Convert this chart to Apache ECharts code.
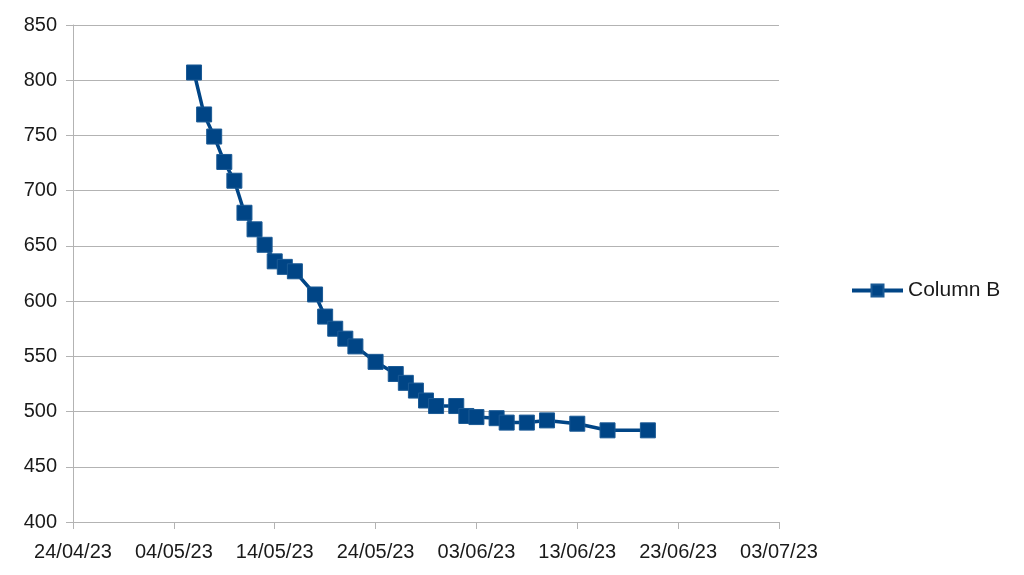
<!DOCTYPE html>
<html>
<head>
<meta charset="utf-8">
<script src="https://cdn.jsdelivr.net/npm/echarts@6/dist/echarts.min.js"></script>
<style>html,body{margin:0;padding:0;background:#fff;}#chart{width:1024px;height:575px;}</style>
</head>
<body>
<div id="chart"></div>
<script>
const baseDate = '2023-04-24';
const dates = ['2023-05-06','2023-05-07','2023-05-08','2023-05-09','2023-05-10','2023-05-11','2023-05-12','2023-05-13','2023-05-14','2023-05-15','2023-05-16','2023-05-18','2023-05-19','2023-05-20','2023-05-21','2023-05-22','2023-05-24','2023-05-26','2023-05-27','2023-05-28','2023-05-29','2023-05-30','2023-06-01','2023-06-02','2023-06-03','2023-06-05','2023-06-06','2023-06-08','2023-06-10','2023-06-13','2023-06-16','2023-06-20'];
const columnB = [807,769,749,726,709,680,665,651,636,631,627,606,586,575,566,559,545,534,526,519,510,505,505,496,495,494,490,490,492,489,483,483];
const seriesName = 'Column B';

const DAY = 86400000;
function toUTC(s){const p=s.split('-').map(Number);return Date.UTC(p[0],p[1]-1,p[2]);}
const base = toUTC(baseDate);
const points = dates.map((d,i)=>[(toUTC(d)-base)/DAY, columnB[i]]);
function pad(n){return (n<10?'0':'')+n;}
function fmt(v){const d=new Date(base+v*DAY);return pad(d.getUTCDate())+'/'+pad(d.getUTCMonth()+1)+'/'+pad(d.getUTCFullYear()%100);}

const chart = echarts.init(document.getElementById('chart'));
const gray = '#b3b3b3';
const fontSize = 20;
chart.setOption({
  animation:false,
  textStyle:{fontFamily:'Liberation Sans'},
  grid:{left:73,right:245,top:25,bottom:53,containLabel:false},
  legend:{
    orient:'vertical', left:845, top:275, itemWidth:51, itemHeight:15, itemGap:5,
    textStyle:{fontFamily:'Liberation Sans',fontSize:21,color:'#1a1a1a'},
    lineStyle:{width:4},
    data:[seriesName]
  },
  xAxis:{
    type:'value', min:0, max:70, interval:10,
    axisLine:{lineStyle:{color:gray}},
    axisTick:{show:true,length:7,lineStyle:{color:gray}},
    splitLine:{show:false},
    axisLabel:{formatter:fmt,color:'#1a1a1a',fontSize:fontSize,margin:20,fontFamily:'Liberation Sans'}
  },
  yAxis:{
    type:'value', min:400, max:850, interval:50,
    axisLine:{show:true,lineStyle:{color:gray}},
    axisTick:{show:true,length:7,lineStyle:{color:gray}},
    splitLine:{lineStyle:{color:gray,width:1}},
    axisLabel:{color:'#1a1a1a',fontSize:fontSize,margin:16,fontFamily:'Liberation Sans'}
  },
  series:[{
    name:seriesName, type:'line', data:points,
    symbol:'rect', symbolSize:15,
    lineStyle:{color:'#004586',width:3.5},
    itemStyle:{color:'#004586',borderColor:'#1a5a95',borderWidth:1}
  }]
});
</script>
</body>
</html>
